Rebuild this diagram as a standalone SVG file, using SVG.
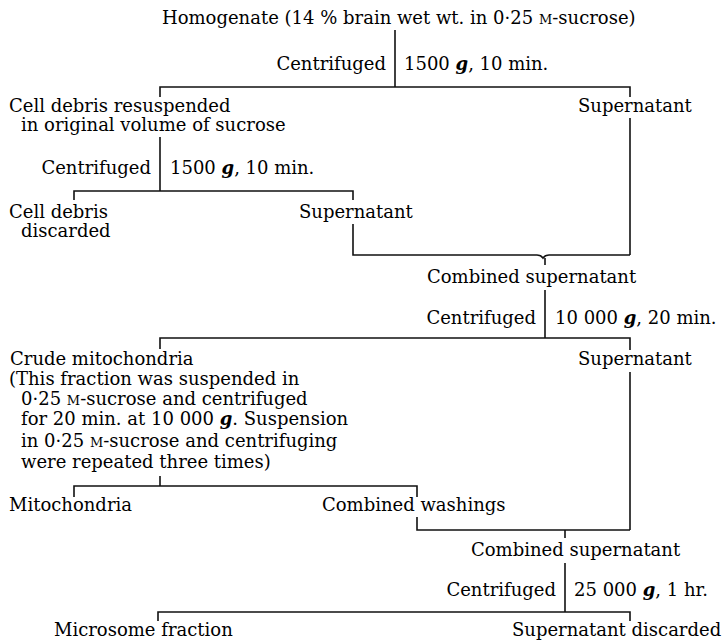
<svg xmlns="http://www.w3.org/2000/svg" width="723" height="640" viewBox="0 0 723 640">
<style>
text { font-family: "DejaVu Serif", "Liberation Serif", serif; font-size: 18px; fill: #000; }
.sc { font-size: 13px; }
.g { font-style: italic; font-weight: bold; }
.ln { stroke: #111; stroke-width: 1.6; fill: none; }
</style>
<rect width="723" height="640" fill="#fff"/>
<g id="connectors">
  <path class="ln" d="M395,30 V87"/>
  <path class="ln" d="M160,97 V87 H630 V97"/>
  <path class="ln" d="M630,118 V255"/>
  <path class="ln" d="M160,137 V191"/>
  <path class="ln" d="M74,200 V191 H353 V200"/>
  <path class="ln" d="M353,224 V255 H537 Q541,255 543,258 Q545,255 549,255 H630"/>
  <path class="ln" d="M545,258 V265"/>
  <path class="ln" d="M545,290 V338"/>
  <path class="ln" d="M160,349 V338 H630 V350"/>
  <path class="ln" d="M630,372 V530"/>
  <path class="ln" d="M160,476 V486"/>
  <path class="ln" d="M74,497 V486 H417 V497"/>
  <path class="ln" d="M417,517 V530 H630"/>
  <path class="ln" d="M565,530 V538"/>
  <path class="ln" d="M565,563 V612"/>
  <path class="ln" d="M158,621 V612 H630 V621"/>
  <g id="labels">
    <text x="386" y="70" text-anchor="end">Centrifuged</text>
    <text x="404" y="70">1500 <tspan class="g">g</tspan>, 10 min.</text>
    <text x="151" y="174" text-anchor="end">Centrifuged</text>
    <text x="170" y="174">1500 <tspan class="g">g</tspan>, 10 min.</text>
    <text x="536" y="324" text-anchor="end">Centrifuged</text>
    <text x="555" y="324">10 000 <tspan class="g">g</tspan>, 20 min.</text>
    <text x="556" y="596" text-anchor="end">Centrifuged</text>
    <text x="574" y="596">25 000 <tspan class="g">g</tspan>, 1 hr.</text>
  </g>
</g>
<g id="n-homogenate"><text x="162" y="24">Homogenate (14 % brain wet wt. in 0·25 <tspan class="sc">M</tspan>-sucrose)</text></g>
<g id="n-celldebris-resuspended">
  <text x="9" y="112">Cell debris resuspended</text>
  <text x="21" y="131">in original volume of sucrose</text>
</g>
<g id="n-supernatant-1"><text x="578" y="112">Supernatant</text></g>
<g id="n-celldebris-discarded">
  <text x="9" y="218">Cell debris</text>
  <text x="21" y="237">discarded</text>
</g>
<g id="n-supernatant-2"><text x="299" y="218">Supernatant</text></g>
<g id="n-combined-1"><text x="427" y="283">Combined supernatant</text></g>
<g id="n-crude">
  <text x="10" y="365">Crude mitochondria</text>
  <text x="9" y="385">(This fraction was suspended in</text>
  <text x="21" y="405">0·25 <tspan class="sc">M</tspan>-sucrose and centrifuged</text>
  <text x="21" y="425">for 20 min. at 10 000 <tspan class="g">g</tspan>.  Suspension</text>
  <text x="21" y="447">in 0·25 <tspan class="sc">M</tspan>-sucrose and centrifuging</text>
  <text x="21" y="468">were repeated three times)</text>
</g>
<g id="n-supernatant-3"><text x="578" y="365">Supernatant</text></g>
<g id="n-mitochondria"><text x="9" y="511">Mitochondria</text></g>
<g id="n-washings"><text x="322" y="511">Combined washings</text></g>
<g id="n-combined-2"><text x="471" y="556">Combined supernatant</text></g>
<g id="n-microsome"><text x="54" y="636">Microsome fraction</text></g>
<g id="n-supernatant-discarded"><text x="512" y="636">Supernatant discarded</text></g>
</svg>
